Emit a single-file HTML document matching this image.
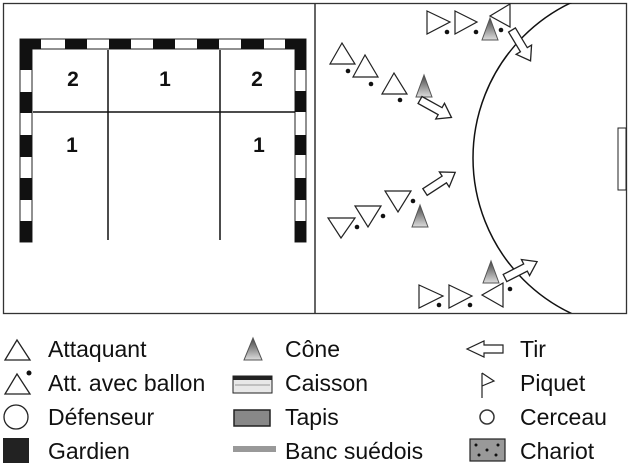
<!DOCTYPE html>
<html><head><meta charset="utf-8"><style>
body{margin:0;background:#fff;width:630px;height:466px;overflow:hidden}
text{font-family:"Liberation Sans",sans-serif}
</style></head><body>
<svg width="630" height="466" viewBox="0 0 630 466" xmlns="http://www.w3.org/2000/svg">
<defs>
<linearGradient id="cg" x1="0" y1="0" x2="0" y2="1"><stop offset="0" stop-color="#444"/><stop offset="1" stop-color="#ddd"/></linearGradient>
<g id="cone"><polygon points="0,-11 -8,11 8,11" fill="url(#cg)" stroke="#555" stroke-width="1"/></g>
<g id="arr"><polygon points="0,-4 23,-4 23,-9 36,0 23,9 23,4 0,4" fill="#fff" stroke="#222" stroke-width="1.3"/></g>
<clipPath id="rc"><rect x="316" y="3" width="311" height="310"/></clipPath>
</defs>
<rect x="3.5" y="3.5" width="623" height="310" fill="none" stroke="#333" stroke-width="1.3"/>
<line x1="315" y1="3" x2="315" y2="313" stroke="#333" stroke-width="1.5"/>
<g stroke="#222" stroke-width="1">
<rect x="20" y="39" width="286" height="10" fill="#fff"/>
<rect x="20" y="39" width="12" height="203" fill="#fff"/>
<rect x="295" y="39" width="11" height="203" fill="#fff"/>
</g>
<g fill="#111">
<rect x="20" y="39" width="21" height="10"/><rect x="65" y="39" width="22" height="10"/><rect x="109" y="39" width="22" height="10"/><rect x="153" y="39" width="22" height="10"/><rect x="197" y="39" width="22" height="10"/><rect x="241" y="39" width="23" height="10"/><rect x="285" y="39" width="21" height="10"/>
<rect x="20" y="39" width="12" height="31"/><rect x="20" y="92" width="12" height="21"/><rect x="20" y="135" width="12" height="22"/><rect x="20" y="178" width="12" height="22"/><rect x="20" y="221" width="12" height="21"/>
<rect x="295" y="39" width="11" height="31"/><rect x="295" y="91" width="11" height="21"/><rect x="295" y="135" width="11" height="20"/><rect x="295" y="178" width="11" height="22"/><rect x="295" y="221" width="11" height="21"/>
</g>
<g stroke="#111" stroke-width="1.5">
<line x1="108" y1="50" x2="108" y2="240"/><line x1="220" y1="50" x2="220" y2="240"/><line x1="33" y1="112" x2="295" y2="112"/>
</g>
<g font-weight="bold" font-size="21" fill="#111" text-anchor="middle">
<text x="73" y="86">2</text><text x="165" y="86">1</text><text x="257" y="86">2</text>
<text x="72" y="152">1</text><text x="259" y="152">1</text>
</g>
<circle cx="645" cy="158" r="172" fill="none" stroke="#111" stroke-width="1.5" clip-path="url(#rc)"/>
<rect x="618" y="128" width="8" height="62" fill="#fff" stroke="#222" stroke-width="1"/>
<g fill="#fff" stroke="#222" stroke-width="1.2">
<polygon points="427,11 450,22 427,34"/><polygon points="455,11 477,22 455,34"/>
<polygon points="510,4 490,16 510,27"/>
<polygon points="342,43 330,64 355,64"/><polygon points="365,55 353,77 378,77"/><polygon points="394,73 382,94 407,94"/>
<polygon points="328,218 355,218 341,238"/><polygon points="355,206 381,206 368,227"/><polygon points="385,191 411,191 398,212"/>
<polygon points="419,285 443,296 419,308"/><polygon points="449,285 472,296 449,308"/><polygon points="503,283 482,295 503,307"/>
</g>
<g fill="#111">
<circle cx="447" cy="32" r="2.3"/><circle cx="476" cy="32" r="2.3"/><circle cx="501" cy="30" r="2.3"/>
<circle cx="348" cy="71" r="2.3"/><circle cx="371" cy="84" r="2.3"/><circle cx="400" cy="100" r="2.3"/>
<circle cx="357" cy="227" r="2.3"/><circle cx="383" cy="216" r="2.3"/><circle cx="413" cy="201" r="2.3"/>
<circle cx="439" cy="305" r="2.3"/><circle cx="470" cy="305" r="2.3"/><circle cx="510" cy="289" r="2.3"/>
</g>
<use href="#cone" x="490" y="29"/><use href="#cone" x="424" y="86"/><use href="#cone" x="420" y="216"/><use href="#cone" x="491" y="272"/>
<use href="#arr" transform="translate(512,30) rotate(59)"/>
<use href="#arr" transform="translate(420,100) rotate(29)"/>
<use href="#arr" transform="translate(425,192) rotate(-33)"/>
<use href="#arr" transform="translate(505,278) rotate(-27)"/>
<g font-size="23" fill="#111">
<text x="48" y="357">Attaquant</text><text x="48" y="391">Att. avec ballon</text><text x="48" y="425">Défenseur</text><text x="48" y="459">Gardien</text>
<text x="285" y="357">Cône</text><text x="285" y="391">Caisson</text><text x="285" y="425">Tapis</text><text x="285" y="459">Banc suédois</text>
<text x="520" y="357">Tir</text><text x="520" y="391">Piquet</text><text x="520" y="425">Cerceau</text><text x="520" y="459">Chariot</text>
</g>
<g fill="#fff" stroke="#222" stroke-width="1.3">
<polygon points="17,340 5,360 30,360"/>
<polygon points="17,374 5,394 30,394"/>
<circle cx="16" cy="417" r="12"/>
</g>
<circle cx="29" cy="373" r="2.5" fill="#111"/>
<rect x="3" y="438" width="26" height="25" fill="#222"/>
<polygon points="253,338 244,360 262,360" fill="url(#cg)" stroke="#555"/>
<rect x="233" y="376" width="39" height="17" fill="#e8e8e8" stroke="#222"/>
<rect x="233" y="376" width="39" height="4" fill="#222"/>
<line x1="235" y1="385" x2="270" y2="385" stroke="#999"/>
<rect x="234" y="410" width="36" height="16" fill="#888" stroke="#222" stroke-width="1.5"/>
<rect x="233" y="446" width="43" height="6" fill="#999"/>
<polygon points="503,345 484,345 484,341 467,349 484,357 484,353 503,353" fill="#fff" stroke="#222" stroke-width="1.2"/>
<line x1="482" y1="373" x2="482" y2="398" stroke="#222" stroke-width="1.2"/>
<polyline points="482,373 494,381 482,386" fill="none" stroke="#222" stroke-width="1.2"/>
<circle cx="487" cy="417" r="7" fill="#fff" stroke="#333" stroke-width="1.5"/>
<rect x="470" y="439" width="35" height="22" fill="#999" stroke="#222" stroke-width="1.2"/>
<g fill="#111"><circle cx="476" cy="445" r="1.5"/><circle cx="498" cy="445" r="1.5"/><circle cx="487" cy="450" r="1.5"/><circle cx="479" cy="455" r="1.5"/><circle cx="496" cy="455" r="1.5"/></g>
</svg>
</body></html>
